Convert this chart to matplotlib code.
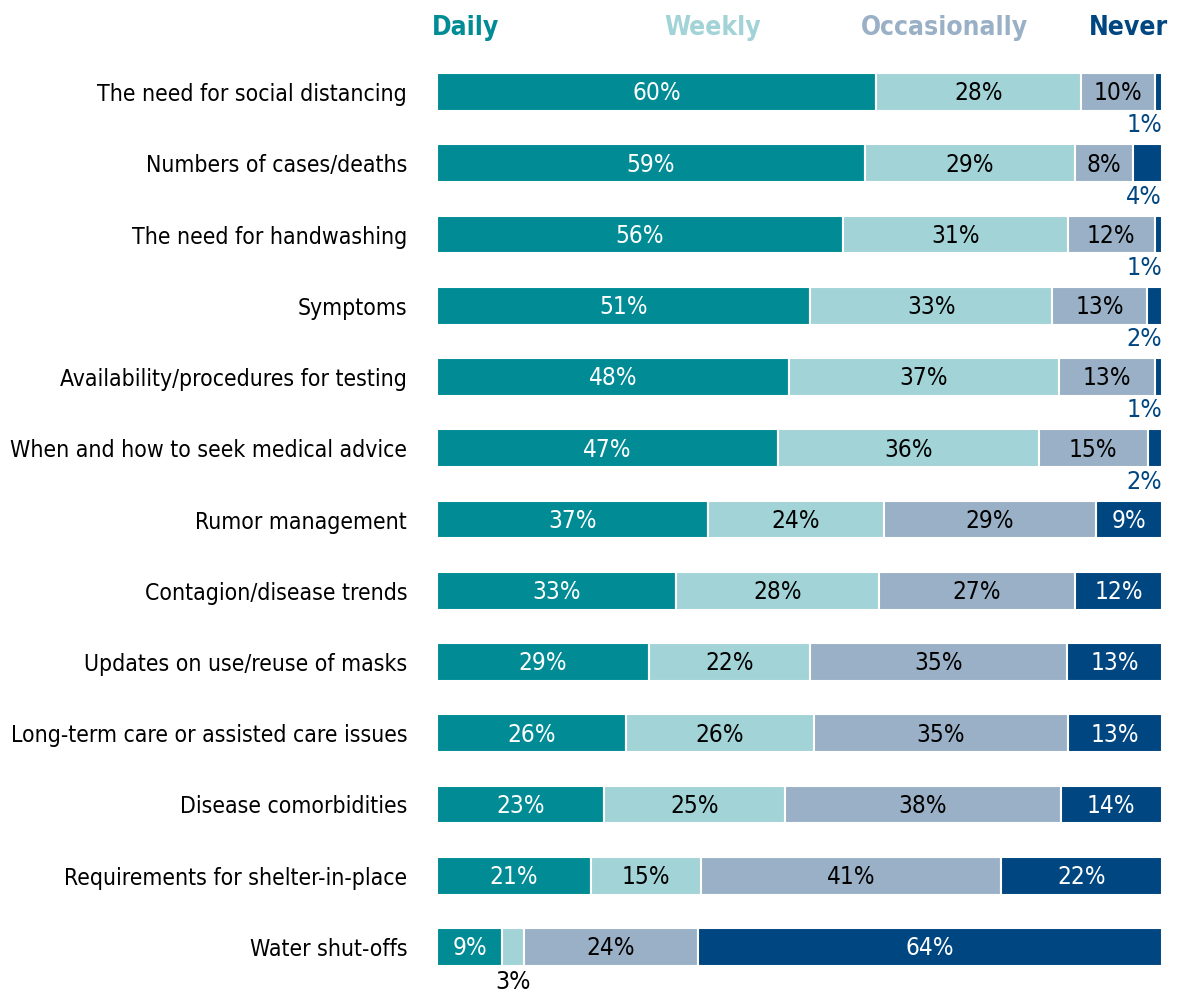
import matplotlib.pyplot as plt
import numpy as np

plt.rcParams['font.family'] = ['DejaVu Sans']
plt.rcParams['font.stretch'] = 'condensed'

topics = [
    "The need for social distancing",
    "Numbers of cases/deaths",
    "The need for handwashing",
    "Symptoms",
    "Availability/procedures for testing",
    "When and how to seek medical advice",
    "Rumor management",
    "Contagion/disease trends",
    "Updates on use/reuse of masks",
    "Long-term care or assisted care issues",
    "Disease comorbidities",
    "Requirements for shelter-in-place",
    "Water shut-offs",
]
daily = [60, 59, 56, 51, 48, 47, 37, 33, 29, 26, 23, 21, 9]
weekly = [28, 29, 31, 33, 37, 36, 24, 28, 22, 26, 25, 15, 3]
occasionally = [10, 8, 12, 13, 13, 15, 29, 27, 35, 35, 38, 41, 24]
never = [1, 4, 1, 2, 1, 2, 9, 12, 13, 13, 14, 22, 64]

series_names = ["Daily", "Weekly", "Occasionally", "Never"]
colors = ["#008b95", "#a2d3d7", "#9ab0c6", "#004680"]
text_colors = ["white", "black", "black", "white"]

fig = plt.figure(figsize=(11.78, 9.99), dpi=100)
ax = fig.add_axes([437 / 1178, 1 - 982.6 / 999, 725 / 1178, (982.6 - 56.4) / 999])

data = np.array([daily, weekly, occasionally, never], dtype=float)
totals = data.sum(axis=0)
shares = data / totals
y = np.arange(len(topics))
left = np.zeros(len(topics))

for k in range(4):
    ax.barh(y, shares[k], left=left, height=0.53, color=colors[k],
            edgecolor="white", linewidth=1.5)
    for i in range(len(topics)):
        val = data[k, i]
        cx = left[i] + shares[k, i] / 2
        if shares[k, i] >= 0.05:
            ax.text(cx, y[i] + 0.02, f"{val:.0f}%", ha="center", va="center",
                    fontsize=17.5, color=text_colors[k])
        elif k == 3:
            # thin "never" segments get their label under the bar end
            ax.text(1.0, y[i] + 0.3, f"{val:.0f}%", ha="right", va="top",
                    fontsize=18, color=colors[3])
        else:
            ax.text(cx, y[i] + 0.33, f"{val:.0f}%", ha="center", va="top",
                    fontsize=18, color="black")
    left += shares[k]

ax.set_xlim(0, 1)
ax.set_ylim(len(topics) - 0.5, -0.5)
ax.set_yticks(y)
ax.set_yticklabels(topics, fontsize=16.5)
ax.tick_params(axis="y", length=0, pad=21.5)
ax.set_xticks([])
for s in ax.spines.values():
    s.set_visible(False)

# column headers above the bars
hy = 1 - 28 / 999
fig.text(432 / 1178, hy, "Daily", ha="left", va="center",
         fontsize=19, fontweight="bold", color=colors[0])
fig.text(713 / 1178, hy, "Weekly", ha="center", va="center",
         fontsize=19, fontweight="bold", color=colors[1])
fig.text(945 / 1178, hy, "Occasionally", ha="center", va="center",
         fontsize=19, fontweight="bold", color=colors[2])
fig.text(1168 / 1178, hy, "Never", ha="right", va="center",
         fontsize=19, fontweight="bold", color=colors[3])

fig.savefig("out.png", dpi=100)
